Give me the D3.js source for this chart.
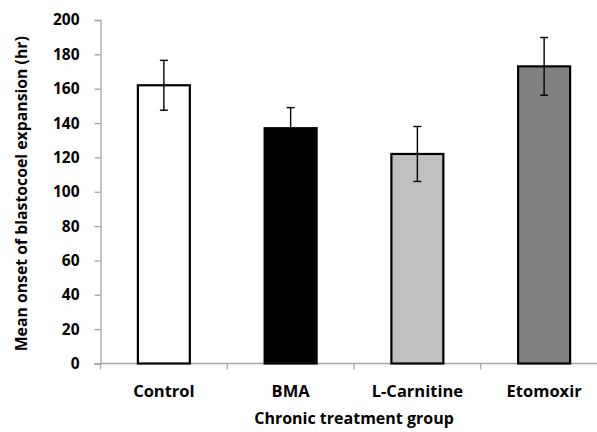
<!DOCTYPE html>
<html>
<head>
<meta charset="utf-8">
<script src="https://cdn.jsdelivr.net/npm/d3@7"></script>
<style>
  html, body { margin: 0; padding: 0; background: #fff; }
  svg text { font-family: "Open Sans", Lato, sans-serif; font-weight: 700; fill: #000; }
</style>
</head>
<body>
<svg id="chart" width="597" height="432"></svg>
<script>
const categories = ["Control", "BMA", "L-Carnitine", "Etomoxir"];
const means = [162, 137, 122, 173];
const errors = [14.5, 12, 16, 16.8];
const fills = ["#ffffff", "#000000", "#c0c0c0", "#808080"];
const yTicks = [0, 20, 40, 60, 80, 100, 120, 140, 160, 180, 200];

const svg = d3.select("#chart");
const mLeft = 100.5, mRight = 607.5, mTop = 20, mBottom = 363.5;

const x = d3.scaleBand().domain(categories).range([mLeft, mRight]).paddingInner(0.59).paddingOuter(0.295);
const y = d3.scaleLinear().domain([0, 200]).range([mBottom, mTop]);

// y axis
const yAxis = svg.append("g").attr("transform", `translate(${mLeft},0)`)
  .call(d3.axisLeft(y).tickValues(yTicks).tickSize(6).tickPadding(15));
yAxis.select(".domain").attr("stroke", "#a6a6a6").attr("stroke-width", 1.3);
yAxis.selectAll(".tick line").attr("stroke", "#a6a6a6").attr("stroke-width", 1.3);
yAxis.selectAll(".tick text").attr("font-size", 15.5)
  .style("font-family", "'Open Sans', sans-serif").style("font-weight", "700");

// x axis baseline and category boundary ticks
const xAxisG = svg.append("g");
xAxisG.append("line").attr("x1", mLeft).attr("x2", mRight).attr("y1", mBottom).attr("y2", mBottom)
  .attr("stroke", "#a6a6a6").attr("stroke-width", 1.3);
const step = (mRight - mLeft) / categories.length;
xAxisG.selectAll("line.tk").data(d3.range(categories.length + 1)).join("line")
  .attr("class", "tk")
  .attr("x1", i => mLeft + i * step).attr("x2", i => mLeft + i * step)
  .attr("y1", mBottom).attr("y2", mBottom + 6)
  .attr("stroke", "#a6a6a6").attr("stroke-width", 1.3);

// bars
svg.append("g").selectAll("rect").data(categories).join("rect")
  .attr("x", d => x(d))
  .attr("y", (d, i) => y(means[i]))
  .attr("width", x.bandwidth())
  .attr("height", (d, i) => y(0) - y(means[i]))
  .attr("fill", (d, i) => fills[i])
  .attr("stroke", "#000").attr("stroke-width", 2.2);

// error bars (mean ± error)
const cx = d => x(d) + x.bandwidth() / 2;
const eb = svg.append("g").selectAll("g").data(categories).join("g");
eb.append("line")
  .attr("x1", cx).attr("x2", cx)
  .attr("y1", (d, i) => y(means[i] + errors[i]))
  .attr("y2", (d, i) => y(means[i] - errors[i]))
  .attr("stroke", "#000").attr("stroke-width", 1.4);
eb.append("line")
  .attr("x1", d => cx(d) - 4).attr("x2", d => cx(d) + 4)
  .attr("y1", (d, i) => y(means[i] + errors[i])).attr("y2", (d, i) => y(means[i] + errors[i]))
  .attr("stroke", "#000").attr("stroke-width", 1.4);
eb.append("line")
  .attr("x1", d => cx(d) - 4).attr("x2", d => cx(d) + 4)
  .attr("y1", (d, i) => y(means[i] - errors[i])).attr("y2", (d, i) => y(means[i] - errors[i]))
  .attr("stroke", "#000").attr("stroke-width", 1.4);

// category labels
svg.append("g").selectAll("text").data(categories).join("text")
  .attr("x", cx).attr("y", 397)
  .attr("text-anchor", "middle").attr("font-size", 16.5)
  .text(d => d);

// axis titles
svg.append("text").attr("x", 354).attr("y", 424)
  .attr("text-anchor", "middle").attr("font-size", 16)
  .text("Chronic treatment group");
svg.append("text")
  .attr("transform", `translate(27,${(mTop + mBottom) / 2 + 2}) rotate(-90)`)
  .attr("text-anchor", "middle").attr("font-size", 15.8)
  .text("Mean onset of blastocoel expansion (hr)");
</script>
</body>
</html>
